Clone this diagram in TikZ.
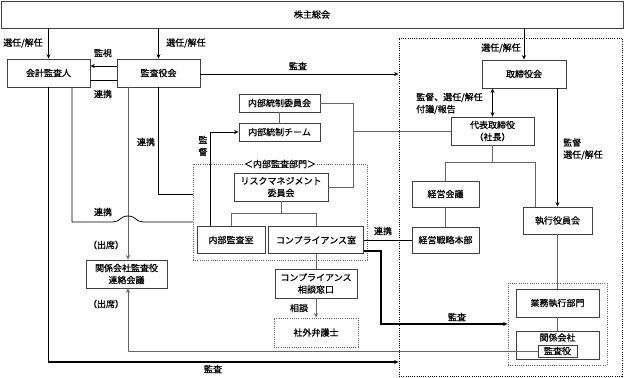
\documentclass[tikz,border=0pt]{standalone}
\usepackage{fontspec}
\setmainfont{Noto Sans CJK JP}[AutoFakeBold=0.7]
\usetikzlibrary{arrows.meta}
\tikzset{
  bx/.style={draw=black!75, line width=0.8pt, fill=white, inner sep=0pt, align=center},
  dbox/.style={draw=black!60, line width=0.8pt, dash pattern=on 1pt off 1.2pt, inner sep=0pt},
  ln/.style={draw=black, line width=0.8pt},
  gl/.style={draw=black!60, line width=0.8pt},
  thk/.style={draw=black, line width=1.2pt},
  lbl/.style={inner sep=0pt, align=left},
  >={Stealth[length=4.5pt,width=4pt]}
}
\begin{document}
\begin{tikzpicture}[x=1pt,y=-1pt,font=\fontsize{9}{12}\selectfont\bfseries]
\useasboundingbox (0,0) rectangle (625,378);
% dotted groups
\node[dbox, draw=black, minimum width=223pt, minimum height=338pt] (big) at (510.5,207) {};
\node[dbox, minimum width=174pt, minimum height=96pt] (naibugrp) at (280,212) {};
\node[dbox, minimum width=99pt, minimum height=82pt] (gyogrp) at (557.5,324) {};
% boxes
\node[bx, minimum width=622pt, minimum height=27pt] (soukai) at (312,14.5) {株主総会};
\node[bx, minimum width=83pt, minimum height=28pt] (kaikei) at (48.5,73) {会計監査人};
\node[bx, minimum width=83pt, minimum height=28pt] (kansayaku) at (158.5,73) {監査役会};
\node[bx, minimum width=84pt, minimum height=28pt] (torishimari) at (524,74) {取締役会};
\node[bx, minimum width=83pt, minimum height=28pt] (daihyo) at (492.5,131) {代表取締役\\（社長）};
\node[bx, minimum width=81pt, minimum height=18pt] (naibuI) at (279.5,103) {内部統制委員会};
\node[bx, minimum width=81pt, minimum height=18pt] (naibuT) at (279.5,132) {内部統制チーム};
\node[bx, minimum width=94pt, minimum height=28pt] (risk) at (281,187) {リスクマネジメント\\委員会};
\node[bx, minimum width=68pt, minimum height=27pt] (naibukansa) at (231,240) {内部監査室};
\node[bx, minimum width=95pt, minimum height=27pt] (comp) at (316,240) {コンプライアンス室};
\node[bx, minimum width=82pt, minimum height=29pt] (soudan) at (316,283.5) {コンプライアンス\\相談窓口};
\node[bx, dbox, fill=white, minimum width=84pt, minimum height=29pt] (bengoshi) at (316,332.5) {社外弁護士};
\node[bx, minimum width=67pt, minimum height=26pt] (keiei) at (445.5,194) {経営会議};
\node[bx, minimum width=67pt, minimum height=26pt] (senryaku) at (445.5,240) {経営戦略本部};
\node[bx, minimum width=69pt, minimum height=27pt] (shikkou) at (557.5,220.5) {執行役員会};
\node[bx, minimum width=83pt, minimum height=28pt] (gyomu) at (557.5,303) {業務執行部門};
\node[bx, minimum width=83pt, minimum height=28pt] (kankei) at (557.5,345) {};
\node[lbl] (kankeiT) at (557.5,337.5) {関係会社};
\node[bx, minimum width=39pt, minimum height=12pt] (kks) at (557.5,351) {監査役};
\node[bx, minimum width=81pt, minimum height=28pt] (renraku) at (126.5,274) {関係会社監査役\\連絡会議};
% connectors
\draw[ln,->] (soukai.south -| kaikei.north) -- (kaikei.north);
\draw[ln,->] (soukai.south -| kansayaku.north) -- (kansayaku.north);
\draw[ln,->] (soukai.south -| torishimari.north) -- (torishimari.north);
\draw[ln,->] (kansayaku.west |- 0,66) -- (kaikei.east |- 0,66);
\draw[ln] (kaikei.east |- 0,80) -- (kansayaku.west |- 0,80);
\draw[ln,->] (kansayaku.east |- 0,74) -- (big.west |- 0,74);
\draw[ln,<->] (daihyo.north) -- (daihyo.north |- torishimari.south);
\draw[ln,->] (torishimari.south -| shikkou.north) -- (shikkou.north);
\draw[gl] (naibuI.south) -- (naibuT.north);
\draw[gl] (naibuI.east) -- (naibuI.east -| 353,0) -- (risk.east -| 353,0) -- (risk.east);
\draw[gl] (daihyo.west) -- (daihyo.west -| 353,0);
\draw[ln,->] (naibukansa.north -| 210,0) -- (naibuT.west -| 210,0) -- (naibuT.west);
\draw[gl] (risk.south) -- (risk.south |- 0,213);
\draw[gl] (naibukansa.north) -- (naibukansa.north |- 0,213) -- (comp.north |- 0,213) -- (comp.north);
\draw[ln] (comp.east) -- (senryaku.west);
\draw[gl] (comp.south) -- (soudan.north);
\draw[gl,->] (soudan.south) -- (bengoshi.north);
\draw[thk,->] (comp.east |- 0,251) -- (381,251) -- (381,324) -- (gyogrp.west |- 0,324);
\draw[gl] (daihyo.south) -- (daihyo.south |- 0,162);
\draw[gl] (keiei.north) -- (keiei.north |- 0,162) -- (535,162) -- (shikkou.north -| 535,0);
\draw[gl] (keiei.south) -- (senryaku.north);
\draw[gl] (shikkou.south) -- (gyomu.north);
\draw[gl] (gyomu.south) -- (kankei.north);
\draw[gl,->] (kansayaku.south -| 128,0) -- (renraku.north -| 128,0);
\draw[gl,->] (kks.west) -- (kks.west -| 128,0) -- (renraku.south -| 128,0);
\draw[ln] (kaikei.south -| 72,0) -- (72,222) -- (113,222) .. controls (120,222) and (120,216) .. (128,216) .. controls (136,216) and (136,222) .. (143,222) -- (naibugrp.west |- 0,222);
\draw[ln] (kansayaku.south) -- (kansayaku.south |- 0,194) -- (naibugrp.west |- 0,194);
\draw[thk,->] (kaikei.south) -- (kaikei.south |- 0,362) -- (big.west |- 0,362);
% labels
\node[lbl, anchor=west] (l1) at (3,43) {選任/解任};
\node[lbl, anchor=west] (l2) at (166,43) {選任/解任};
\node[lbl] (l3) at (103,53) {監視};
\node[lbl] (l4) at (103,94) {連携};
\node[lbl] (l5) at (298,66) {監査};
\node[lbl] (l6) at (501,48) {選任/解任};
\node[lbl, anchor=west] (l7) at (416,103.5) {監督、選任/解任\\付議/報告};
\node[lbl, anchor=west] (l8) at (563,149) {監督\\選任/解任};
\node[lbl, align=center] (l9) at (203,146) {監\\督};
\node[fill=white, inner sep=1pt] (l10) at (280,164) {＜内部監査部門＞};
\node[lbl] (l11) at (383,231) {連携};
\node[lbl] (l12) at (146,142) {連携};
\node[lbl] (l13) at (103,212) {連携};
\node[lbl] (l14) at (106,245) {（出席）};
\node[lbl] (l15) at (106,304) {（出席）};
\node[lbl] (l16) at (299,308) {相談};
\node[lbl] (l17) at (457,317) {監査};
\node[lbl] (l18) at (213,369) {監査};
\end{tikzpicture}
\end{document}
